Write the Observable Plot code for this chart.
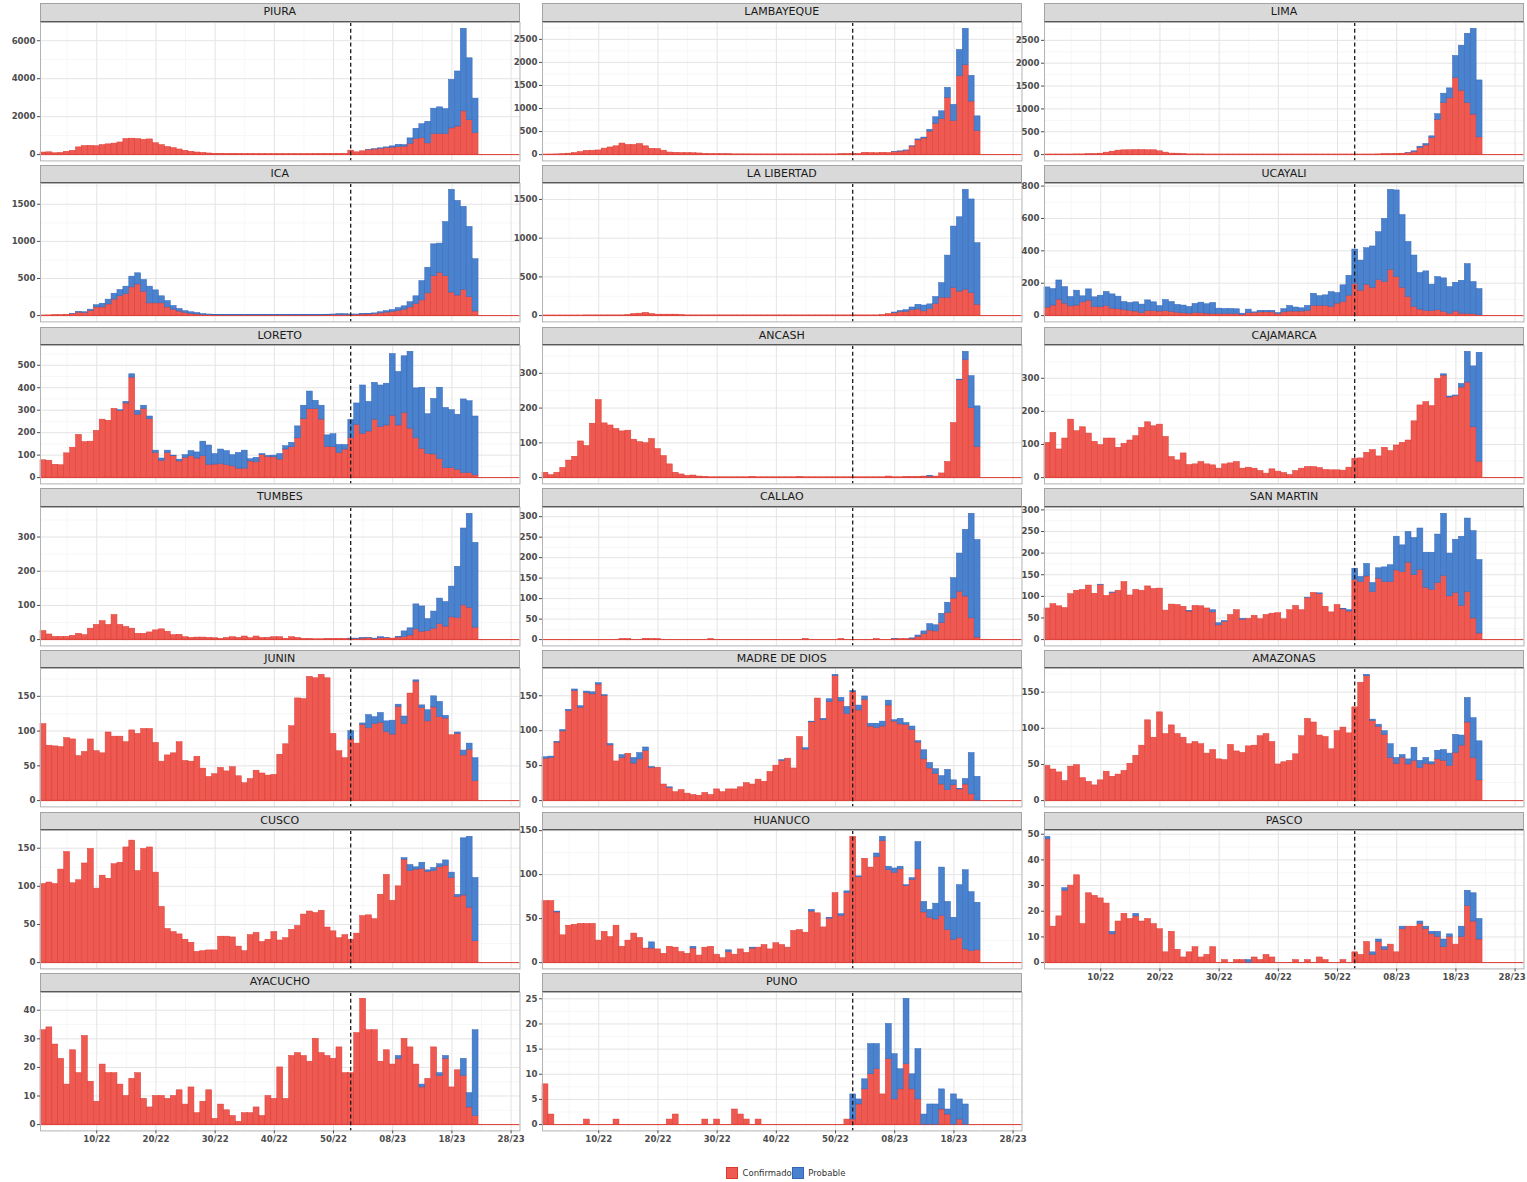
<!DOCTYPE html>
<html>
<head>
<meta charset="utf-8">
<script src="https://cdn.jsdelivr.net/npm/d3@7"></script>
<script src="https://cdn.jsdelivr.net/npm/@observablehq/plot@0.6"></script>
<style>
  html, body { margin: 0; padding: 0; background: #ffffff; }
  body { font-family: "DejaVu Sans", sans-serif; }
  #chart { position: relative; width: 1527px; height: 1182px; background: #ffffff; overflow: hidden; }
  .strip { position: absolute; box-sizing: border-box; background: #d9d9d9; border: 1px solid #a3a3a3; border-bottom: 1.4px solid #595959;
           color: #1a1a1a; font-family: "DejaVu Sans", sans-serif; font-size: 11px; text-align: center; line-height: 16px; white-space: nowrap; }
  .panel { position: absolute; }
  .panel svg { background: transparent !important; overflow: visible !important; max-width: none !important; }
  .lg-sq { position: absolute; width: 12px; height: 12px; box-sizing: border-box; }
  .lg-tx { position: absolute; font-family: "DejaVu Sans", sans-serif; font-size: 8.5px; color: #333; line-height: 12px; white-space: nowrap; }
</style>
</head>
<body>
<div id="chart"></div>
<script>
// ---------------- DATA (weekly counts, weeks 1/22 .. 22/23 -> index 1..74) ----------------
const PIURA_conf = [
110,120,70,90,150,200,380,450,460,440,
500,540,580,640,820,840,820,780,800,600,
500,400,340,270,200,150,110,90,60,45,
40,35,40,35,30,30,25,25,20,20,
20,20,25,20,20,25,30,35,30,30,35,30,
210,120,175,240,270,310,350,370,400,420,
560,820,870,590,1080,1080,1080,1380,1480,2280,
1810,1130];
const PIURA_prob = [
0,0,0,0,0,0,0,0,0,0,
0,0,0,0,0,0,0,0,0,0,
0,0,0,0,0,0,0,0,0,0,
0,0,0,0,0,0,0,0,0,0,
0,0,0,0,0,0,0,0,0,0,0,0,
0,0,0,5,10,20,30,65,120,85,
295,540,730,1140,1340,1410,1320,2560,2900,4350,
3265,1820];

const LAMBAYEQUE_conf = [
2,3,5,8,20,35,55,80,85,90,
130,155,180,240,210,210,230,180,125,120,
85,45,40,35,35,30,25,15,10,10,
8,8,6,6,6,5,5,5,5,5,
5,5,5,5,5,5,5,5,5,5,8,10,
10,10,40,35,30,40,35,55,65,85,
175,310,350,500,670,770,1230,730,1700,1940,
1150,510];
const LAMBAYEQUE_prob = [
0,0,0,0,0,0,0,0,0,0,
0,0,0,0,0,0,0,0,0,0,
0,0,0,0,0,0,0,0,0,0,
0,0,0,0,0,0,0,0,0,0,
0,0,0,0,0,0,0,0,0,0,0,0,
0,0,0,0,0,0,0,5,5,5,
5,20,20,40,140,170,220,350,570,790,
560,320];

const LIMA_conf = [
3,3,3,3,3,5,5,8,10,20,
43,65,87,94,95,100,100,95,95,72,
43,22,20,10,5,5,5,3,3,3,
3,3,3,3,3,3,3,3,3,3,
3,3,3,3,3,3,3,3,3,3,3,3,
3,3,3,3,5,10,10,15,20,30,
60,145,200,362,761,1130,1232,1674,1398,1130,
877,377];
const LIMA_prob = [
0,0,0,0,0,0,0,0,0,0,
0,0,0,0,0,0,0,0,0,0,
0,0,0,0,0,0,0,0,0,0,
0,0,0,0,0,0,0,0,0,0,
0,0,0,0,0,0,0,0,0,0,0,0,
0,0,0,0,0,0,0,0,0,5,
12,29,32,38,123,203,217,485,986,1515,
1876,1246];

const ICA_conf = [
2,3,5,5,10,20,40,35,60,110,
110,150,215,260,290,380,420,320,165,165,
165,110,80,55,35,25,15,10,5,4,
3,3,3,3,3,3,3,3,3,3,
3,3,3,3,3,3,3,3,4,5,5,5,
10,10,15,15,20,30,40,50,65,80,
110,155,205,300,530,575,530,310,270,345,
250,55];
const ICA_prob = [
0,0,0,0,0,5,10,10,20,30,
50,65,80,85,100,145,150,160,225,175,
95,85,50,35,25,20,20,10,10,6,
5,5,5,5,5,5,5,5,5,5,
5,5,5,5,5,5,7,7,8,10,15,15,
5,5,5,10,10,15,20,25,35,45,
70,105,260,345,430,395,730,1385,1275,1120,
945,705];

const LA_LIBERTAD_conf = [
2,2,2,2,2,2,2,3,3,3,
3,3,3,3,5,20,25,35,20,12,
12,12,12,5,3,3,3,3,3,3,
3,3,3,3,3,3,3,3,3,3,
3,3,3,3,3,3,3,3,3,3,3,3,
3,3,3,3,3,5,20,30,45,50,
70,80,55,85,150,230,230,355,310,335,
290,140];
const LA_LIBERTAD_prob = [
0,0,0,0,0,0,0,0,0,0,
0,0,0,0,0,0,0,0,0,0,
0,0,0,0,0,0,0,0,0,0,
0,0,0,0,0,0,0,0,0,0,
0,0,0,0,0,0,0,0,0,0,0,0,
0,0,0,0,0,0,0,10,15,20,
35,60,75,60,90,190,545,795,960,1290,
1210,795];

const UCAYALI_conf = [
49,62,98,74,57,62,82,92,53,51,
59,43,39,35,29,25,16,29,27,25,
27,23,18,14,12,16,14,12,10,10,
10,10,10,5,15,15,20,20,20,10,
20,25,25,25,30,60,60,60,55,74,84,123,
195,154,191,172,219,207,283,238,172,115,
53,37,29,27,33,23,12,25,12,10,
8,2];
const UCAYALI_prob = [
125,102,119,102,58,92,37,70,60,72,
87,88,78,49,49,57,52,65,55,34,
69,61,48,48,41,56,66,58,68,33,
31,31,29,7,22,5,10,10,10,6,
20,35,25,20,30,75,60,65,90,65,103,123,
213,186,225,255,296,390,494,535,449,340,
318,226,244,164,205,207,164,178,203,308,
199,162];

const LORETO_conf = [
77,75,57,55,108,133,190,158,160,208,
258,253,306,297,330,445,280,305,260,110,
75,110,95,72,88,95,85,95,57,58,
60,55,50,40,40,72,68,100,92,90,
80,125,135,175,260,305,305,258,137,135,110,125,
175,235,195,205,258,225,232,275,232,288,
218,175,128,105,103,82,42,42,35,20,
20,10];
const LORETO_prob = [
0,0,0,0,0,0,0,0,0,0,
0,0,0,3,7,15,18,15,12,10,
10,10,3,8,12,23,27,65,86,47,
65,63,50,70,80,10,20,5,5,8,
25,15,20,53,60,78,37,62,51,58,35,20,
82,95,215,132,164,185,186,275,238,252,
342,222,272,177,247,318,268,258,245,328,
320,262];

const ANCASH_conf = [
14,7,14,28,49,60,104,91,155,223,
156,150,140,133,135,109,102,99,111,82,
62,38,14,9,5,6,3,2,1,1,
1,1,1,1,1,2,1,1,1,1,
1,1,1,2,1,1,1,1,1,1,1,1,
1,1,1,1,1,1,3,1,1,2,
2,2,3,3,3,12,45,157,280,338,
200,88];
const ANCASH_prob = [
0,0,0,0,0,0,0,0,0,0,
0,0,0,0,0,0,0,0,0,0,
0,0,0,0,0,0,0,0,0,0,
0,0,0,0,0,0,0,0,0,0,
0,0,0,0,0,0,0,0,0,0,0,0,
0,0,0,0,0,0,0,0,0,0,
0,0,0,2,0,0,0,0,2,24,
92,117];

const CAJAMARCA_conf = [
105,135,85,118,175,140,152,133,108,98,
118,118,90,102,112,125,150,167,155,160,
123,62,52,73,38,40,47,40,37,27,
40,43,47,27,30,27,20,12,25,18,
14,8,20,27,32,32,29,23,22,22,21,30,
57,58,75,83,64,90,80,97,105,112,
170,218,228,216,298,308,242,246,272,287,
152,48];
const CAJAMARCA_prob = [
0,0,0,0,0,0,0,0,0,0,
0,0,0,0,0,0,0,0,0,0,
0,0,0,0,0,0,0,0,0,0,
0,0,0,0,0,0,0,0,0,0,
0,0,0,0,0,0,0,0,0,0,0,0,
0,0,0,0,0,0,0,0,0,0,
0,0,0,0,0,4,3,2,11,93,
184,329];

const TUMBES_conf = [
25,15,8,8,8,11,17,13,32,43,
54,43,72,43,37,32,17,17,21,27,
30,23,13,14,7,5,6,6,5,4,
2,5,7,5,9,4,9,5,5,7,
7,2,7,5,2,2,1,1,2,2,2,2,
2,2,3,4,2,4,4,3,6,8,
12,30,23,25,32,45,38,65,63,100,
93,35];
const TUMBES_prob = [
0,0,0,0,0,0,0,0,0,0,
0,0,0,0,0,0,0,0,0,0,
0,0,0,0,0,0,0,0,0,0,
0,0,0,0,0,0,0,0,0,0,
0,0,0,0,0,0,0,0,0,0,0,0,
1,1,1,1,1,3,1,0,2,16,
21,73,74,35,50,75,72,90,150,225,
275,248];

const CALLAO_conf = [
0,0,0,0,0,0,0,0,0,0,
0,0,0,1,1,0,0,2,1,1,
0,0,0,0,0,0,0,0,1,0,
0,0,0,0,0,0,0,0,0,0,
0,0,0,0,1,0,0,0,0,0,1,0,
0,0,0,0,1,0,0,1,1,1,
2,7,13,22,20,40,65,100,117,105,
52,5];
const CALLAO_prob = [
0,0,0,0,0,0,0,0,0,0,
0,0,0,0,0,0,0,0,0,0,
0,0,0,0,0,0,0,0,0,0,
0,0,0,0,0,0,0,0,0,0,
0,0,0,0,0,0,0,0,0,0,0,0,
0,0,0,0,0,0,0,1,0,0,
1,3,7,16,15,23,25,50,93,163,
255,238];

const SAN_MARTIN_conf = [
72,82,77,73,105,113,115,125,106,126,
101,108,113,133,102,115,113,123,117,118,
67,81,80,76,65,78,77,72,63,33,
41,57,68,46,48,55,47,57,60,61,
47,68,78,68,96,108,105,76,63,80,70,65,
138,133,146,110,141,133,133,160,156,178,
149,161,120,115,131,147,100,108,78,110,
49,14];
const SAN_MARTIN_prob = [
0,0,0,0,0,0,0,0,0,1,
0,1,0,0,0,0,0,0,0,0,
0,0,0,0,1,0,0,0,5,5,
2,0,0,2,0,0,0,0,0,0,
0,0,0,0,1,0,2,0,0,0,1,3,
26,12,29,21,24,34,39,78,62,71,
86,96,81,86,112,144,99,123,160,170,
202,170];

const JUNIN_conf = [
110,79,78,77,90,88,64,70,88,71,
68,98,92,92,84,101,96,103,103,83,
56,65,68,84,57,56,63,46,34,38,
47,42,48,35,25,31,43,39,36,37,
66,81,107,147,146,178,176,181,176,96,71,61,
88,82,109,104,110,112,99,95,135,110,
154,171,133,114,134,120,118,94,96,65,
73,28];
const JUNIN_prob = [
0,0,0,0,0,0,0,0,0,0,
0,0,0,0,0,0,0,0,0,0,
0,0,0,0,0,0,0,0,0,0,
0,0,0,0,0,0,0,0,0,0,
0,0,0,0,0,0,0,0,0,0,0,0,
12,0,2,19,10,14,15,20,3,11,
0,2,4,16,16,22,4,0,2,7,
9,33];

const MADRE_DE_DIOS_conf = [
60,61,83,99,128,157,133,154,152,166,
150,79,56,61,67,53,59,71,47,47,
23,18,12,15,10,8,7,11,8,16,
12,16,16,19,25,23,30,27,41,50,
57,60,46,91,73,112,146,115,141,178,142,124,
155,129,144,106,104,106,136,113,109,108,
101,83,59,46,38,23,15,22,16,23,
9,0];
const MADRE_DE_DIOS_prob = [
2,2,1,2,2,2,2,2,3,2,
1,2,0,4,0,8,9,5,1,0,
0,1,0,0,0,0,0,0,0,0,
0,0,0,0,0,0,0,0,0,0,
1,0,0,0,2,1,0,2,4,2,5,10,
2,7,5,4,6,7,7,2,8,3,
5,2,13,8,7,12,29,7,1,8,
59,34];

const AMAZONAS_conf = [
48,43,39,27,47,49,31,26,21,28,
40,33,36,41,51,62,76,111,87,122,
92,104,92,87,78,81,78,65,70,57,
56,77,68,66,75,76,89,92,81,50,
53,55,64,89,113,108,90,88,71,96,101,93,
129,163,172,110,102,91,59,51,59,50,
55,45,51,50,57,55,48,66,76,108,
59,28];
const AMAZONAS_prob = [
0,0,0,0,0,0,0,0,0,0,
0,0,0,0,0,0,0,0,0,0,
0,0,0,0,0,0,0,0,0,0,
0,0,0,0,0,0,0,0,0,0,
0,0,0,0,0,0,0,0,0,0,0,0,
0,0,2,2,3,5,19,8,4,7,
18,10,8,3,12,15,17,25,14,34,
55,54];

const CUSCO_conf = [
103,105,103,122,145,104,108,130,149,97,
114,110,129,131,151,160,120,149,151,118,
73,44,40,37,30,26,14,15,16,16,
34,34,33,21,15,36,39,27,30,40,
29,32,43,48,63,67,65,68,46,41,32,36,
30,38,61,62,57,89,115,81,100,135,
120,122,123,119,120,125,127,111,86,88,
72,28];
const CUSCO_prob = [
0,0,0,0,0,0,0,0,0,0,
0,0,0,0,0,0,0,0,0,0,
0,0,0,0,0,0,0,0,0,0,
0,0,0,0,0,0,0,0,0,0,
0,0,0,0,0,0,0,0,0,0,0,0,
0,0,0,0,0,0,0,0,0,2,
8,3,8,2,4,4,7,7,3,75,
93,83];

const HUANUCO_conf = [
70,70,57,31,42,43,44,44,44,25,
35,29,42,18,25,33,28,16,16,15,
10,18,17,12,10,16,8,17,18,9,
5,12,9,15,11,16,17,20,15,22,
20,17,36,37,34,58,56,40,50,79,53,79,
143,97,118,108,120,138,105,102,106,87,
94,106,57,51,49,53,37,26,28,15,
13,14];
const HUANUCO_prob = [
0,0,1,0,0,0,0,0,0,0,
0,0,0,0,0,0,0,0,7,0,
0,0,0,0,0,2,0,0,0,0,
0,2,0,0,0,1,0,0,0,0,
0,0,0,0,0,2,0,0,1,0,2,2,
0,1,0,0,4,5,4,5,3,1,
2,31,12,9,18,55,32,25,60,90,
67,54];

const PASCO_conf = [
48,14,18,28,30,34,15,27,26,25,
23,11,16,19,17,18,16,17,15,13,
4,12,5,2,4,6,2,3,6,0,
1,0,1,1,0,2,1,3,2,0,
0,0,1,0,1,0,2,1,0,0,1,0,
4,3,8,3,8,5,7,4,13,14,
14,15,13,11,10,6,10,7,10,22,
16,9];
const PASCO_prob = [
1,0,0,1,0,0,0,0,0,0,
0,1,0,0,0,1,0,0,0,0,
0,0,0,0,0,0,0,0,0,0,
0,0,0,0,1,0,0,0,0,0,
0,0,0,0,0,0,0,0,0,0,0,0,
0,0,0,1,1,1,0,0,1,0,
0,1,1,1,2,3,1,0,4,6,
11,8];

const AYACUCHO_conf = [
33,34,28,23,14,26,18,31,15,8,
21,18,18,14,10,16,18,9,6,10,
10,9,10,12,7,13,4,8,12,2,
7,5,3,1,4,4,6,3,10,9,
20,9,24,25,24,22,30,25,24,23,27,18,
18,32,44,33,33,22,26,21,23,30,
27,21,13,16,27,17,23,13,19,17,
6,3];
const AYACUCHO_prob = [
0,0,0,0,0,0,0,0,0,0,
0,0,0,0,0,0,0,0,0,0,
0,0,0,0,0,0,0,0,0,0,
0,0,0,0,0,0,0,0,0,0,
0,0,0,0,0,0,0,0,0,0,0,0,
0,0,0,0,0,0,0,0,1,0,
0,0,1,0,0,1,1,0,0,6,
5,30];

const PUNO_conf = [
8,2,0,0,0,0,0,1,0,0,
0,0,1,0,0,0,0,0,0,0,
0,1,2,0,0,0,0,1,0,1,
0,0,3,2,1,0,1,0,0,0,
0,0,0,0,0,0,0,0,0,0,0,1,
1,4,7,10,11,6,13,5,7,12,
7,5,0,0,0,3,2,0,1,0,
0,0];
const PUNO_prob = [
0,0,0,0,0,0,0,0,0,0,
0,0,0,0,0,0,0,0,0,0,
0,0,0,0,0,0,0,0,0,0,
0,0,0,0,0,0,0,0,0,0,
0,0,0,0,0,0,0,0,0,0,0,0,
5,1,2,6,5,0,7,9,4,13,
3,10,2,4,4,4,1,6,4,4,
0,0];

// ---- tick values / labels ----
const xTickValues = [10, 20, 30, 40, 50, 60, 70, 80];
const xTickLabels = ["10/22", "20/22", "30/22", "40/22", "50/22", "08/23", "18/23", "28/23"];
const xMinorValues = [5, 15, 25, 35, 45, 55, 65, 75];
const cutWeek = 52.9;           // dashed line: start of 2023
const weekDomain = [0.5, 81.5]; // weeks 1/22 .. 29/23

const yt6000 = [0, 2000, 4000, 6000];
const yt2500 = [0, 500, 1000, 1500, 2000, 2500];
const yt1500 = [0, 500, 1000, 1500];
const yt800 = [0, 200, 400, 600, 800];
const yt500 = [0, 100, 200, 300, 400, 500];
const yt300 = [0, 100, 200, 300];
const yt300b = [0, 50, 100, 150, 200, 250, 300];
const yt150 = [0, 50, 100, 150];
const yt50 = [0, 10, 20, 30, 40, 50];
const yt40 = [0, 10, 20, 30, 40];
const yt25 = [0, 5, 10, 15, 20, 25];

const legendLabels = ["Confirmado", "Probable"];

// ---- panels (facet_wrap order, 3 columns) ----
const panels = [
  ["PIURA", PIURA_conf, PIURA_prob, yt6000],
  ["LAMBAYEQUE", LAMBAYEQUE_conf, LAMBAYEQUE_prob, yt2500],
  ["LIMA", LIMA_conf, LIMA_prob, yt2500],
  ["ICA", ICA_conf, ICA_prob, yt1500],
  ["LA LIBERTAD", LA_LIBERTAD_conf, LA_LIBERTAD_prob, yt1500],
  ["UCAYALI", UCAYALI_conf, UCAYALI_prob, yt800],
  ["LORETO", LORETO_conf, LORETO_prob, yt500],
  ["ANCASH", ANCASH_conf, ANCASH_prob, yt300],
  ["CAJAMARCA", CAJAMARCA_conf, CAJAMARCA_prob, yt300],
  ["TUMBES", TUMBES_conf, TUMBES_prob, yt300],
  ["CALLAO", CALLAO_conf, CALLAO_prob, yt300b],
  ["SAN MARTIN", SAN_MARTIN_conf, SAN_MARTIN_prob, yt300b],
  ["JUNIN", JUNIN_conf, JUNIN_prob, yt150],
  ["MADRE DE DIOS", MADRE_DE_DIOS_conf, MADRE_DE_DIOS_prob, yt150],
  ["AMAZONAS", AMAZONAS_conf, AMAZONAS_prob, yt150],
  ["CUSCO", CUSCO_conf, CUSCO_prob, yt150],
  ["HUANUCO", HUANUCO_conf, HUANUCO_prob, yt150],
  ["PASCO", PASCO_conf, PASCO_prob, yt50],
  ["AYACUCHO", AYACUCHO_conf, AYACUCHO_prob, yt40],
  ["PUNO", PUNO_conf, PUNO_prob, yt25]
];

// ---- styling / layout ----
const redFill = "#EE5A52", redLine = "#DC3A31";
const blueFill = "#4A82CE", blueLine = "#3366BA";
const colLeft = [40, 542, 1044.3];
const panelW = 479.5, stripH = 18.4, panelH = 138.4, rowPitch = 161.67, top0 = 3.3;
const axisLeft = 40, axisRight = 8, axisBottom = 22;

const chart = document.getElementById("chart");

panels.forEach(([name, conf, prob, yt], k) => {
  const col = k % 3, row = Math.floor(k / 3);
  const left = colLeft[col];
  const sTop = top0 + row * rowPitch;

  const strip = document.createElement("div");
  strip.className = "strip";
  strip.style.left = left + "px";
  strip.style.top = sTop + "px";
  strip.style.width = panelW + "px";
  strip.style.height = stripH + "px";
  strip.textContent = name;
  chart.appendChild(strip);

  const confRows = conf.map((c, i) => ({w: i + 1, y1: 0, y2: c})).filter(d => d.y2 > 0);
  const probRows = prob.map((p, i) => ({w: i + 1, y1: conf[i], y2: conf[i] + p})).filter(d => d.y2 > d.y1);
  const M = d3.max(conf, (c, i) => c + prob[i]);
  const yDomain = [-0.05 * M, 1.05 * M];
  const step = yt[1] - yt[0];
  const yMinor = yt.map(v => v + step / 2).concat([yt[0] - step / 2]).filter(v => v > yDomain[0] && v < yDomain[1]);
  const hasAxis = row === 6 || (row === 5 && col === 2);
  const lastCol = col === 2;
  const mb = hasAxis ? axisBottom : 0;
  const lastTick = xTickValues[xTickValues.length - 1];

  const svg = Plot.plot({
    width: axisLeft + panelW + axisRight,
    height: panelH + mb,
    marginLeft: axisLeft, marginRight: axisRight, marginTop: 0, marginBottom: mb,
    style: {background: "transparent", overflow: "visible", fontFamily: "DejaVu Sans", fontSize: "8.6px", fontWeight: "bold", color: "#4d4d4d"},
    x: {domain: weekDomain, axis: null},
    y: {domain: yDomain, axis: null},
    marks: [
      Plot.gridX(xMinorValues, {stroke: "#f1f1f1", strokeOpacity: 1, strokeWidth: 0.6}),
      Plot.gridY(yMinor, {stroke: "#f1f1f1", strokeOpacity: 1, strokeWidth: 0.6}),
      Plot.gridX(xTickValues, {stroke: "#e4e4e4", strokeOpacity: 1, strokeWidth: 1}),
      Plot.gridY(yt, {stroke: "#e4e4e4", strokeOpacity: 1, strokeWidth: 1}),
      Plot.ruleY([0], {stroke: redLine, strokeWidth: 1}),
      Plot.rect(confRows, {x1: d => d.w - 0.5, x2: d => d.w + 0.5, y1: "y1", y2: "y2", fill: redFill, stroke: redLine, strokeWidth: 0.5}),
      Plot.rect(probRows, {x1: d => d.w - 0.5, x2: d => d.w + 0.5, y1: "y1", y2: "y2", fill: blueFill, stroke: blueLine, strokeWidth: 0.5}),
      Plot.ruleX([cutWeek], {stroke: "#1a1a1a", strokeWidth: 1.3, strokeDasharray: "4,2.8"}),
      Plot.frame({stroke: "#b3b3b3"}),
      Plot.axisY(yt, {tickSize: 3, tickPadding: 2, tickFormat: d => String(d), color: "#4d4d4d"}),
      hasAxis ? Plot.axisX(xTickValues, {
        tickSize: 3, tickPadding: 2, color: "#4d4d4d",
        tickFormat: d => (lastCol && d === lastTick) ? "" : xTickLabels[xTickValues.indexOf(d)]
      }) : null,
      // last label of the right-hand column, nudged so it stays inside the page
      (hasAxis && lastCol) ? Plot.text([lastTick], {
        x: d => d, frameAnchor: "bottom", lineAnchor: "top", dy: 5, dx: -3,
        text: d => xTickLabels[xTickValues.indexOf(d)], fill: "#4d4d4d"
      }) : null
    ]
  });

  const wrap = document.createElement("div");
  wrap.className = "panel";
  wrap.style.left = (left - axisLeft) + "px";
  wrap.style.top = (sTop + stripH) + "px";
  wrap.appendChild(svg);
  chart.appendChild(wrap);
});

// ---- legend ----
const legendItems = [
  {label: legendLabels[0], fill: redFill, line: redLine, sq: 726, tx: 742.5},
  {label: legendLabels[1], fill: blueFill, line: blueLine, sq: 792, tx: 808.3}
];
legendItems.forEach(it => {
  const sq = document.createElement("div");
  sq.className = "lg-sq";
  sq.style.left = it.sq + "px"; sq.style.top = "1167.3px";
  sq.style.background = it.fill; sq.style.border = "1px solid " + it.line;
  chart.appendChild(sq);
  const tx = document.createElement("div");
  tx.className = "lg-tx";
  tx.style.left = it.tx + "px"; tx.style.top = "1167.3px";
  tx.textContent = it.label;
  chart.appendChild(tx);
});
</script>
</body>
</html>
